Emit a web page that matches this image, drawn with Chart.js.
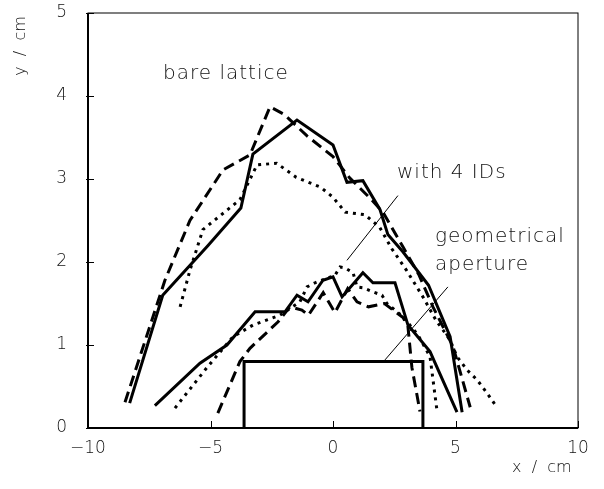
<!DOCTYPE html>
<html>
<head>
<meta charset="utf-8">
<script src="https://cdn.jsdelivr.net/npm/chart.js@4/dist/chart.umd.min.js"></script>
<style>
  html, body { margin: 0; padding: 0; background: #fff; }
  #wrap { width: 604px; height: 489px; }
</style>
</head>
<body>
<div id="wrap"><canvas id="c" width="604" height="489"></canvas></div>
<script>
// bare lattice
const bareSolid = [[-8.3,0.3],[-6.95,1.6],[-5.1,2.2],[-3.76,2.65],[-3.27,3.3],[-1.47,3.71],[0.0,3.41],[0.57,2.96],[1.22,2.98],[1.92,2.63],[2.24,2.33],[2.86,2.12],[3.9,1.72],[4.78,1.1],[5.27,0.19]];
const bareDashed = [[-8.49,0.31],[-6.86,1.78],[-5.84,2.5],[-4.49,3.11],[-3.39,3.29],[-2.57,3.87],[-2.0,3.78],[-1.06,3.52],[0.0,3.27],[0.69,3.01],[1.51,2.77],[2.04,2.6],[2.86,2.18],[3.5,1.85],[4.08,1.46],[4.9,0.98],[5.6,0.25]];
const bareDotted = [[-6.24,1.46],[-5.84,1.9],[-5.31,2.39],[-3.8,2.75],[-3.1,3.17],[-2.3,3.19],[-1.5,3.02],[-0.5,2.9],[0.0,2.78],[0.5,2.6],[1.3,2.57],[1.9,2.42],[2.4,2.16],[3.0,1.9],[3.67,1.58],[4.2,1.3],[4.78,1.06],[5.06,0.86],[5.47,0.7],[5.88,0.58],[6.29,0.42],[6.69,0.25]];
// with 4 IDs
const idSolid = [[-7.27,0.27],[-5.43,0.78],[-4.33,1.0],[-3.18,1.4],[-1.96,1.4],[-1.47,1.6],[-1.02,1.52],[-0.41,1.78],[0.0,1.82],[0.37,1.58],[1.22,1.87],[1.63,1.75],[2.53,1.75],[3.06,1.24],[3.96,0.92],[5.06,0.19]];
const idDashed = [[-4.7,0.18],[-3.8,0.8],[-3.39,0.96],[-2.24,1.28],[-1.76,1.46],[-1.27,1.42],[-1.0,1.36],[-0.4,1.63],[0.08,1.39],[0.6,1.68],[0.98,1.52],[1.45,1.46],[2.1,1.5],[2.86,1.33],[3.06,1.22],[3.22,0.73],[3.55,0.2]];
const idDotted = [[-6.45,0.24],[-5.14,0.73],[-4.08,1.1],[-3.27,1.24],[-2.16,1.36],[-1.35,1.52],[-1.06,1.7],[-0.73,1.75],[0.08,1.84],[0.29,1.94],[0.49,1.93],[0.82,1.87],[0.98,1.7],[1.22,1.69],[1.63,1.64],[2.0,1.6],[2.2,1.5],[2.86,1.34],[3.47,1.12],[3.96,0.86],[4.24,0.22]];
// geometrical aperture
const aperture = [[-3.63,0],[-3.63,0.8],[3.67,0.8],[3.67,0]];
// pointer lines
const pointerIDs = [[0.57,2.02],[2.65,2.8]];
const pointerAperture = [[2.12,0.82],[4.69,1.7]];

const xTicks = [-10,-5,0,5,10];
const yTicks = [0,1,2,3,4,5];

const labels = [
  { text: "bare lattice", x: 163, y: 79 },
  { text: "with 4 IDs", x: 397, y: 178 },
  { text: "geometrical", x: 435, y: 242 },
  { text: "aperture", x: 435, y: 270 }
];

const FONT = "'DejaVu Sans', sans-serif";

function pts(a) { return a.map(p => ({ x: p[0], y: p[1] })); }
function line(data, dash, width) {
  return {
    data: pts(data), showLine: true, borderColor: "#000", borderWidth: width || 3,
    borderDash: dash || [], pointRadius: 0, tension: 0, fill: false, borderCapStyle: "butt"
  };
}

const extras = {
  id: "extras",
  afterDraw(chart) {
    const ctx = chart.ctx;
    const a = chart.chartArea;
    const xs = chart.scales.x, ys = chart.scales.y;
    ctx.save();
    ctx.strokeStyle = "#000";
    ctx.lineWidth = 1;
    // frame
    ctx.strokeRect(a.left, a.top, a.right - a.left, a.bottom - a.top);
    // inner ticks
    ctx.beginPath();
    xTicks.forEach(v => {
      const px = Math.round(xs.getPixelForValue(v)) + 0.5;
      ctx.moveTo(px, a.bottom); ctx.lineTo(px, a.bottom - 7);
    });
    yTicks.forEach(v => {
      const py = Math.round(ys.getPixelForValue(v)) + 0.5;
      ctx.moveTo(a.left - 2, py); ctx.lineTo(a.left + 6, py);
    });
    ctx.stroke();
    ctx.lineWidth = 2;
    ctx.beginPath();
    ctx.moveTo(a.left, a.bottom); ctx.lineTo(a.right, a.bottom);
    ctx.moveTo(a.left, a.top); ctx.lineTo(a.left, a.bottom);
    ctx.stroke();
    ctx.fillStyle = "#111";
    // y tick labels
    ctx.font = "200 17px " + FONT;
    ctx.textAlign = "right";
    ctx.textBaseline = "middle";
    yTicks.forEach(v => ctx.fillText(String(v), 67, ys.getPixelForValue(v)));
    // annotations
    ctx.font = "200 20px " + FONT;
    ctx.letterSpacing = "1px";
    ctx.textBaseline = "alphabetic";
    ctx.textAlign = "left";
    labels.forEach(l => ctx.fillText(l.text, l.x, l.y));
    ctx.letterSpacing = "0px";
    // axis titles
    ctx.font = "200 16px " + FONT;
    ctx.fillText("x  /  cm", 512, 472);
    ctx.translate(25, 46);
    ctx.rotate(-Math.PI / 2);
    ctx.textAlign = "center";
    ctx.fillText("y  /  cm", 0, 0);
    ctx.restore();
  }
};

new Chart(document.getElementById("c"), {
  type: "scatter",
  data: {
    datasets: [
      line(bareSolid),
      line(bareDashed, [11, 6]),
      line(bareDotted, [3, 5]),
      line(idSolid),
      line(idDashed, [11, 6]),
      line(idDotted, [3, 5]),
      line(aperture),
      line(pointerIDs, [], 1),
      line(pointerAperture, [], 1)
    ]
  },
  options: {
    responsive: false,
    animation: false,
    layout: { padding: { top: 13, right: 26, left: 0, bottom: 0 } },
    plugins: { legend: { display: false }, tooltip: { enabled: false } },
    scales: {
      x: {
        type: "linear", min: -10, max: 10,
        afterBuildTicks: s => { s.ticks = xTicks.map(v => ({ value: v })); },
        afterFit: s => { s.height = 61; },
        grid: { display: false, drawTicks: false },
        border: { display: false },
        ticks: {
          color: "#111", padding: 10, font: { family: FONT, size: 17, weight: "200" },
          callback: v => String(v).replace("-", "\u2212")
        }
      },
      y: {
        type: "linear", min: 0, max: 5,
        afterBuildTicks: s => { s.ticks = yTicks.map(v => ({ value: v })); },
        afterFit: s => { s.width = 88; },
        grid: { display: false, drawTicks: false },
        border: { display: false },
        ticks: { display: false }
      }
    }
  },
  plugins: [extras]
});
</script>
</body>
</html>
